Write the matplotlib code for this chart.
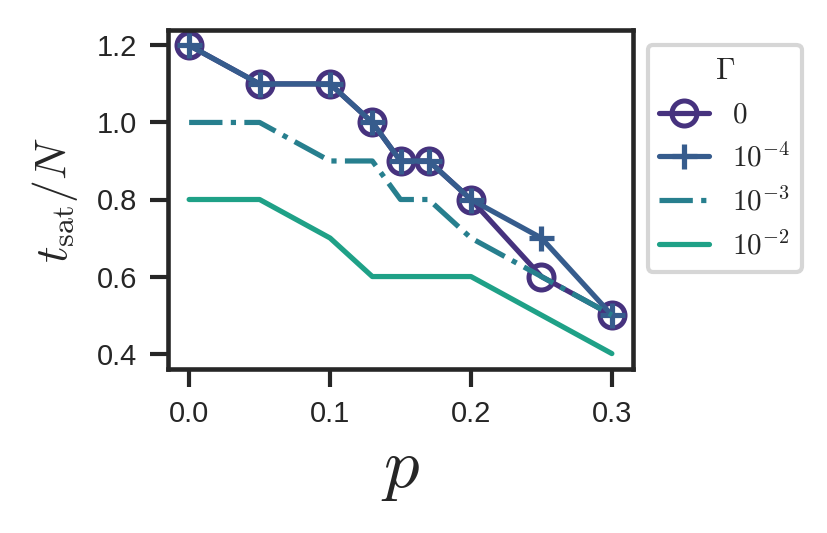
import matplotlib
matplotlib.use("Agg")
import matplotlib.pyplot as plt
import seaborn as sns

sns.set_style("ticks")
plt.rcParams['font.family'] = ['Liberation Sans', 'DejaVu Sans']
plt.rcParams['mathtext.fontset'] = 'cm'

p = [0.0, 0.05, 0.1, 0.13, 0.15, 0.17, 0.2, 0.25, 0.3]
gamma_labels = [r'$0$', r'$10^{-4}$', r'$10^{-3}$', r'$10^{-2}$']
t_g0 = [1.2, 1.1, 1.1, 1.0, 0.9, 0.9, 0.8, 0.6, 0.5]
t_g4 = [1.2, 1.1, 1.1, 1.0, 0.9, 0.9, 0.8, 0.7, 0.5]
t_g3 = [1.0, 1.0, 0.9, 0.9, 0.8, 0.8, 0.7, 0.6, 0.5]
t_g2 = [0.8, 0.8, 0.7, 0.6, 0.6, 0.6, 0.6, 0.5, 0.4]
colors = ['#46327e', '#365c8d', '#277f8e', '#1fa187']

fig = plt.figure(figsize=(827/300, 533/300), dpi=300)
ax = fig.add_axes([168/827, 1-369/533, (633-168)/827, (369-30)/533])

lw = 1.25
ax.plot(p, t_g0, color=colors[0], lw=lw, marker='o', ms=6.0, mfc='none',
        mec=colors[0], mew=1.2, label=gamma_labels[0])
ax.plot(p, t_g4, color=colors[1], lw=lw, marker='+', ms=6.0, mew=1.25,
        label=gamma_labels[1])
ax.plot(p, t_g3, color=colors[2], lw=lw, linestyle='-.',
        label=gamma_labels[2])
ax.plot(p, t_g2, color=colors[3], lw=lw, label=gamma_labels[3])

ax.set_xticks([0.0, 0.1, 0.2, 0.3])
ax.set_yticks([0.4, 0.6, 0.8, 1.0, 1.2])
ax.tick_params(labelsize=7, width=1.0, length=4.3, pad=3.2, color='#262626')
for s in ax.spines.values():
    s.set_linewidth(1.1)
    s.set_color('#262626')

ax.set_xlabel(r'$p$', fontsize=17, labelpad=2)
ax.set_ylabel(r'$t_{\mathrm{sat}}/N$', fontsize=11, labelpad=4)

leg = ax.legend(loc='upper left', bbox_to_anchor=(1, 1), title=r'$\Gamma$',
                fontsize=7, title_fontsize=7.5, handlelength=1.7)

fig.savefig('out.png', dpi=300)
